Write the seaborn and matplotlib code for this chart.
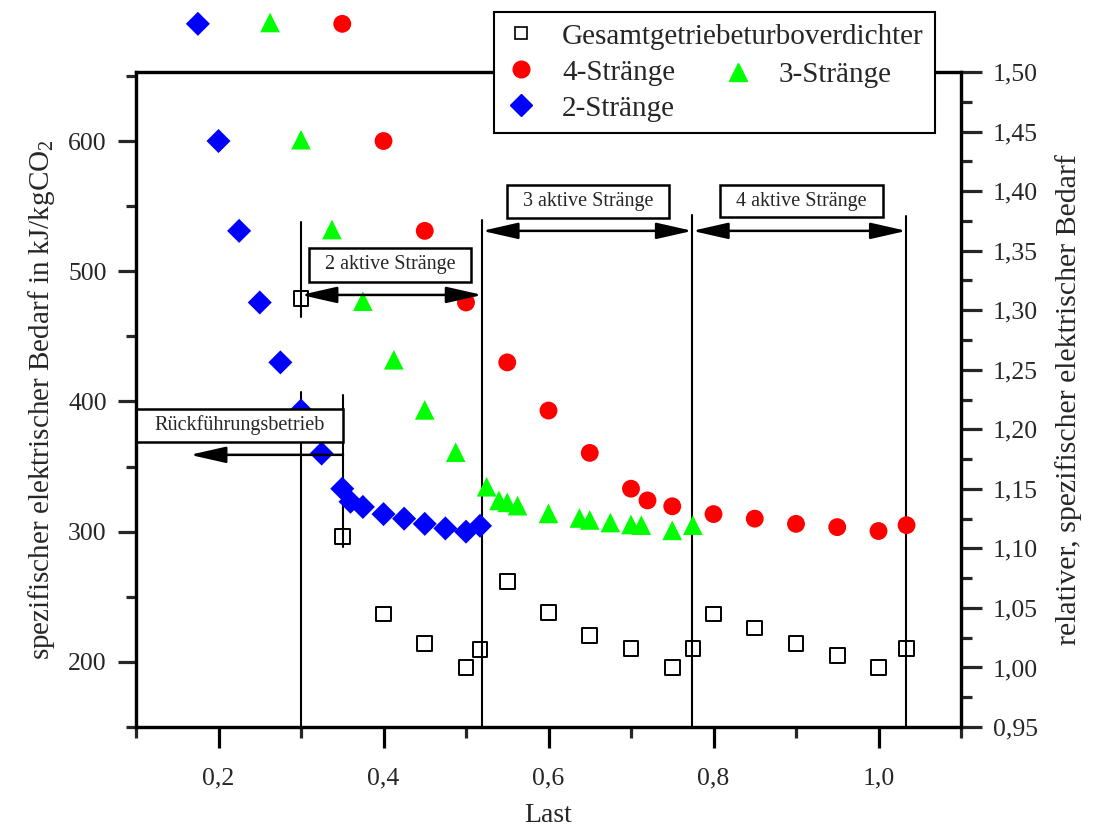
import matplotlib
matplotlib.use("Agg")
import matplotlib.pyplot as plt
import seaborn as sns
import pandas as pd
from matplotlib.lines import Line2D
from matplotlib.patches import Rectangle, ArrowStyle
from matplotlib.ticker import MultipleLocator, FuncFormatter

# ---------------- data ----------------
last_2 = [0.175, 0.2, 0.225, 0.25, 0.275, 0.3, 0.325, 0.35, 0.36, 0.375, 0.4, 0.425, 0.45, 0.475, 0.5, 0.517]
bedarf_2 = [690, 600, 531, 476, 430, 393, 360, 333, 323, 319, 313.5, 310, 306, 302.5, 300, 304.5]

last_3 = [0.2625, 0.3, 0.3375, 0.375, 0.4125, 0.45, 0.4875, 0.525, 0.54, 0.55, 0.5625,
          0.6, 0.6375, 0.65, 0.675, 0.7, 0.7125, 0.75, 0.775]
bedarf_3 = [691, 601, 532, 477, 432, 393.5, 361, 334.5, 324, 322.5, 320,
            314, 310.5, 309, 307, 305.5, 305, 301, 305]

last_4 = [0.35, 0.4, 0.45, 0.5, 0.55, 0.6, 0.65, 0.7, 0.72, 0.75, 0.8, 0.85, 0.9, 0.95, 1.0, 1.034]
bedarf_4 = [690, 600, 531, 476, 430, 393, 360.5, 333, 324, 319.5, 313.5, 310, 306, 303.5, 300.5, 305]

last_g = [0.3, 0.35, 0.4, 0.45, 0.5, 0.517, 0.55, 0.6, 0.65, 0.7, 0.75, 0.775,
          0.8, 0.85, 0.9, 0.95, 1.0, 1.034]
rel_g = [1.31, 1.11, 1.045, 1.02, 1.0, 1.015, 1.072, 1.046, 1.027, 1.016, 1.0, 1.016,
         1.045, 1.033, 1.02, 1.01, 1.0, 1.016]

labels = ["Gesamtgetriebeturboverdichter", "4-Stränge", "3-Stränge", "2-Stränge"]
x_ticks = [0.2, 0.4, 0.6, 0.8, 1.0]
left_ticks = [200, 300, 400, 500, 600]
right_ticks = [0.95, 1.00, 1.05, 1.10, 1.15, 1.20, 1.25, 1.30, 1.35, 1.40, 1.45, 1.50]

# ---------------- style ----------------
sns.set_style("ticks")
plt.rcParams["font.family"] = ["Liberation Serif", "DejaVu Serif"]
plt.rcParams["mathtext.fontset"] = "custom"
plt.rcParams["mathtext.rm"] = "Liberation Serif"

fig = plt.figure(figsize=(10.95, 8.33), dpi=100)
ax = fig.add_axes([136 / 1095, 1 - 727 / 833, (961 - 136) / 1095, (727 - 72) / 833])
ax2 = ax.twinx()

df2 = pd.DataFrame({"Last": last_2, "Bedarf": bedarf_2})
df3 = pd.DataFrame({"Last": last_3, "Bedarf": bedarf_3})
df4 = pd.DataFrame({"Last": last_4, "Bedarf": bedarf_4})
dfg = pd.DataFrame({"Last": last_g, "Rel": rel_g})

sns.scatterplot(data=df2, x="Last", y="Bedarf", ax=ax, marker="D", color="#0000FF",
                s=150, edgecolor="none", clip_on=False, zorder=3)
sns.scatterplot(data=df3, x="Last", y="Bedarf", ax=ax, marker="^", color="#00FF00",
                s=200, edgecolor="none", clip_on=False, zorder=3)
sns.scatterplot(data=df4, x="Last", y="Bedarf", ax=ax, marker="o", color="#FF0000",
                s=165, edgecolor="none", clip_on=False, zorder=3)
sns.scatterplot(data=dfg, x="Last", y="Rel", ax=ax2, marker="s", facecolor="none",
                edgecolor="black", linewidth=1.4, s=110, clip_on=False, zorder=3)

ax.set_xlim(0.1, 1.1)
ax.set_ylim(150, 653)
ax2.set_ylim(0.95, 1.50)

# ---------------- annotations ----------------
lw_v = 1.5
ax.plot([0.3, 0.3], [465, 537.5], color="black", lw=lw_v, zorder=2)
ax.plot([0.3, 0.3], [150, 407.5], color="black", lw=lw_v, zorder=2)
ax.plot([0.351, 0.351], [288, 405], color="black", lw=lw_v, zorder=2)
ax.plot([0.5196, 0.5196], [150, 539.5], color="black", lw=lw_v, zorder=2)
ax.plot([0.7743, 0.7743], [150, 543], color="black", lw=lw_v, zorder=2)
ax.plot([1.0338, 1.0338], [150, 542.5], color="black", lw=lw_v, zorder=2)

def box(x0, x1, y0, y1, text):
    ax.add_patch(Rectangle((x0, y0), x1 - x0, y1 - y0, facecolor="white",
                           edgecolor="black", lw=1.8, zorder=6))
    ax.text((x0 + x1) / 2, (y0 + y1) / 2, text, ha="center", va="center",
            fontsize=14.5, zorder=7)

box(0.1, 0.351, 369, 394.2, "Rückführungsbetrieb")
box(0.3098, 0.5059, 492, 517.6, "2 aktive Stränge")
box(0.5495, 0.7464, 541.1, 566.2, "3 aktive Stränge")
box(0.8082, 1.0055, 541.4, 566.4, "4 aktive Stränge")

def arrow(x_from, x_to, y, style):
    ax.annotate("", xy=(x_to, y), xytext=(x_from, y),
                arrowprops=dict(arrowstyle=ArrowStyle(style, head_length=2.2, head_width=0.5),
                                mutation_scale=10, lw=1.8, color="black",
                                shrinkA=0, shrinkB=0), zorder=6)

arrow(0.351, 0.1655, 359, "-|>")
arrow(0.3, 0.5196, 481.8, "<|-|>")
arrow(0.5196, 0.7743, 531, "<|-|>")
arrow(0.7743, 1.0338, 531, "<|-|>")

# ---------------- axes styling ----------------
for a in (ax, ax2):
    for sp in a.spines.values():
        sp.set_linewidth(2.3)
        sp.set_color("black")

ax.xaxis.set_minor_locator(MultipleLocator(0.1))
ax.set_xticks(x_ticks)
ax.xaxis.set_major_formatter(FuncFormatter(lambda v, p: f"{v:.1f}".replace(".", ",")))
ax.set_yticks(left_ticks)
ax.yaxis.set_minor_locator(MultipleLocator(50))
ax2.set_yticks(right_ticks)
ax2.yaxis.set_minor_locator(MultipleLocator(0.025))
ax2.yaxis.set_major_formatter(FuncFormatter(lambda v, p: f"{v:.2f}".replace(".", ",")))

ax.tick_params(axis="x", which="major", direction="out", length=15, width=2.3,
               labelsize=18.5, pad=14, top=False, color="black")
ax.tick_params(axis="x", which="minor", direction="out", length=8, width=2.3, top=False)
ax.tick_params(axis="y", which="major", direction="out", length=13, width=2.3,
               labelsize=18.5, pad=8)
ax.tick_params(axis="y", which="minor", direction="out", length=7, width=2.3)
ax2.tick_params(axis="y", which="major", direction="out", length=15, width=2.3,
                labelsize=18.5, pad=8)
ax2.tick_params(axis="y", which="minor", direction="out", length=8, width=2.3)

ax.set_xlabel("Last", fontsize=20, labelpad=10)
ax.set_ylabel(r"spezifischer elektrischer Bedarf in kJ/kgCO$_\mathregular{2}$", fontsize=21,
              labelpad=8)
ax2.set_ylabel("relativer, spezifischer elektrischer Bedarf", fontsize=21.5, labelpad=12)

# ---------------- legend ----------------
h_sq = Line2D([], [], ls="none", marker="s", markerfacecolor="none", markeredgecolor="black",
              markeredgewidth=1.2, markersize=9)
h_o = Line2D([], [], ls="none", marker="o", color="#FF0000", markersize=12)
h_d = Line2D([], [], ls="none", marker="D", color="#0000FF", markersize=11)
h_t = Line2D([], [], ls="none", marker="^", color="#00FF00", markersize=13)

leg1 = fig.legend([h_sq, h_o, h_d], [labels[0], labels[1], labels[3]],
                  loc="upper left", bbox_to_anchor=(494 / 1095, 1 - 12 / 833),
                  bbox_transform=fig.transFigure, borderaxespad=0, fontsize=21,
                  frameon=True, fancybox=False, framealpha=1, edgecolor="black",
                  handlelength=1.1, handletextpad=0.85, labelspacing=0.33,
                  borderpad=0.38)
leg1.get_frame().set_linewidth(1.5)
leg2 = fig.legend([h_t], [labels[2]], loc="center left",
                  bbox_to_anchor=(722 / 1095, 1 - 75 / 833),
                  bbox_transform=fig.transFigure, borderaxespad=0, fontsize=21,
                  frameon=False, handlelength=1.1, handletextpad=0.85, borderpad=0)

fig.savefig("out.png", dpi=100)
